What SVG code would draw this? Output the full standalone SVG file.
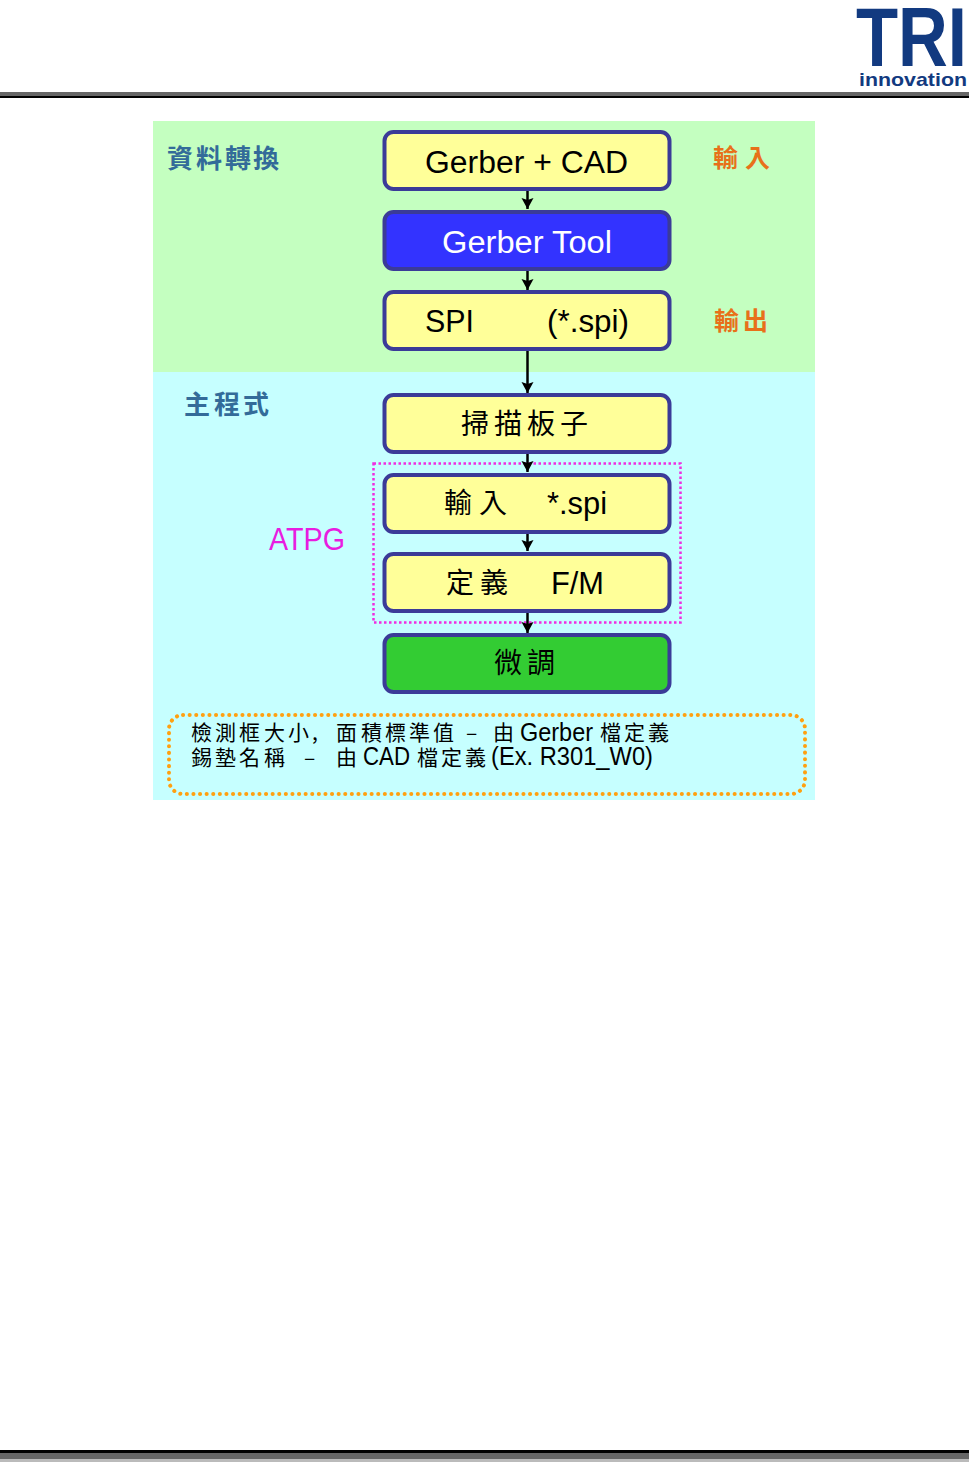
<svg xmlns="http://www.w3.org/2000/svg" width="969" height="1462" viewBox="0 0 969 1462">
<style>
.box{stroke:#3b3b98;stroke-width:4}
.y{fill:#ffff99}
.lat{font-family:"Liberation Sans",Arial,sans-serif;font-size:31px;fill:#000}
.cjk{font-family:"Noto Sans CJK TC","Liberation Sans",sans-serif;fill:#000}
.conn{stroke:#000;stroke-width:2.5;fill:none;marker-end:url(#arr)}
.blue{fill:#336b99;font-size:26px;font-weight:700}
.or{fill:#e8701a;font-size:25px;font-weight:700}
</style>
<defs>
<marker id="arr" markerUnits="userSpaceOnUse" markerWidth="11" markerHeight="13" refX="11" refY="6.500" orient="auto"><path d="M0 0.500L11 6.500L0 12.500L2 6.500Z" fill="#000"/></marker>
</defs>
<rect width="969" height="1462" fill="#fff"/>
<g id="header">
<rect x="0" y="92" width="969" height="4" fill="#666"/><rect x="0" y="96" width="969" height="2" fill="#000"/>
<rect x="0" y="1450" width="969" height="3" fill="#000"/><rect x="0" y="1453" width="969" height="6" fill="#666"/><rect x="0" y="1459" width="969" height="3" fill="#bbb"/>
</g>
<g id="logo">
<text x="856" y="66" textLength="111" lengthAdjust="spacingAndGlyphs" font-family="'Liberation Sans',sans-serif" font-weight="700" font-size="84" fill="#123a80">TRI</text>
<text x="859" y="86" textLength="108" lengthAdjust="spacingAndGlyphs" font-family="'Liberation Sans',sans-serif" font-weight="700" font-size="19" fill="#123a80">innovation</text>
</g>
<g id="panels">
<rect x="153" y="121" width="662" height="251" fill="#c4ffc0"/>
<rect x="153" y="372" width="662" height="428" fill="#c6ffff"/>
</g>
<g id="group-atpg"><rect x="373.500" y="463.500" width="307" height="159" fill="none" stroke="#f02ce0" stroke-width="2.500" stroke-dasharray="2.500 2.500"/>
<text x="269" y="550" textLength="76" lengthAdjust="spacingAndGlyphs" font-family="'Liberation Sans',sans-serif" font-size="31" fill="#e81ce0">ATPG</text></g>
<g id="connectors">
<path class="conn" d="M527.500 190V209"/>
<path class="conn" d="M527.500 270V290"/>
<path class="conn" d="M527.500 351V393"/>
<path class="conn" d="M527.500 453V472"/>
<path class="conn" d="M527.500 533V551"/>
<path class="conn" d="M527.500 612V633"/>
</g>
<g id="n1"><rect class="box y" x="384.500" y="132" width="285" height="57" rx="9"/><text class="lat" x="425" y="173" textLength="203" lengthAdjust="spacingAndGlyphs">Gerber + CAD</text></g>
<g id="n2"><rect class="box" fill="#3333ff" x="384.500" y="212" width="285" height="57" rx="9"/><text class="lat" x="442" y="253" textLength="170" lengthAdjust="spacingAndGlyphs" style="fill:#fff">Gerber Tool</text></g>
<g id="n3"><rect class="box y" x="384.500" y="292" width="285" height="57" rx="9"/><text class="lat" x="425" y="332" textLength="49" lengthAdjust="spacingAndGlyphs">SPI</text><text class="lat" x="547" y="332" textLength="82" lengthAdjust="spacingAndGlyphs">(*.spi)</text></g>
<g id="n4"><rect class="box y" x="384.500" y="395" width="285" height="57" rx="9"/><text class="cjk" font-size="28" y="434" x="461 494 527 560">掃描板子</text></g>
<g id="n5"><rect class="box y" x="384.500" y="475" width="285" height="57" rx="9"/><text class="cjk" font-size="28" y="513" x="444 479">輸入</text><text class="lat" x="547" y="514" textLength="60" lengthAdjust="spacingAndGlyphs">*.spi</text></g>
<g id="n6"><rect class="box y" x="384.500" y="554" width="285" height="57" rx="9"/><text class="cjk" font-size="28" y="593" x="446 480">定義</text><text class="lat" x="551" y="594" textLength="53" lengthAdjust="spacingAndGlyphs">F/M</text></g>
<g id="n7"><rect class="box" fill="#33cc33" x="384.500" y="635" width="285" height="57" rx="9"/><text class="cjk" font-size="28" y="673" x="494 527">微調</text></g>
<g id="labels">
<text class="cjk blue" y="168" x="167 196 225 253">資料轉換</text>
<text class="cjk blue" y="414" x="184 214 243">主程式</text>
<text class="cjk or" y="167" x="713 745">輸入</text>
<text class="cjk or" y="330" x="714 743">輸出</text>
</g>
<g id="note">
<rect x="169" y="715" width="636" height="79" rx="14" fill="none" stroke="#ffa010" stroke-width="4" stroke-linecap="round" stroke-dasharray="0.100 6.500"/>
<text class="cjk" font-size="21" y="740" x="191 215 239 264 288 312 336 361 385 409 433 466 493">檢測框大小,面積標準值–由</text>
<text class="cjk" font-size="21" y="740" x="600 624 648">檔定義</text>
<text class="cjk" font-size="21" y="765" x="191 215 239 264 304 336">錫墊名稱–由</text>
<text class="cjk" font-size="21" y="765" x="417 441 465">檔定義</text>
<text font-family="'Liberation Sans',sans-serif" font-size="25" y="741" x="520" textLength="73" lengthAdjust="spacingAndGlyphs">Gerber</text>
<text font-family="'Liberation Sans',sans-serif" font-size="25" y="765" x="363" textLength="47" lengthAdjust="spacingAndGlyphs">CAD</text>
<text font-family="'Liberation Sans',sans-serif" font-size="25" y="765" x="491" textLength="162" lengthAdjust="spacingAndGlyphs">(Ex. R301_W0)</text>
</g>
</svg>
